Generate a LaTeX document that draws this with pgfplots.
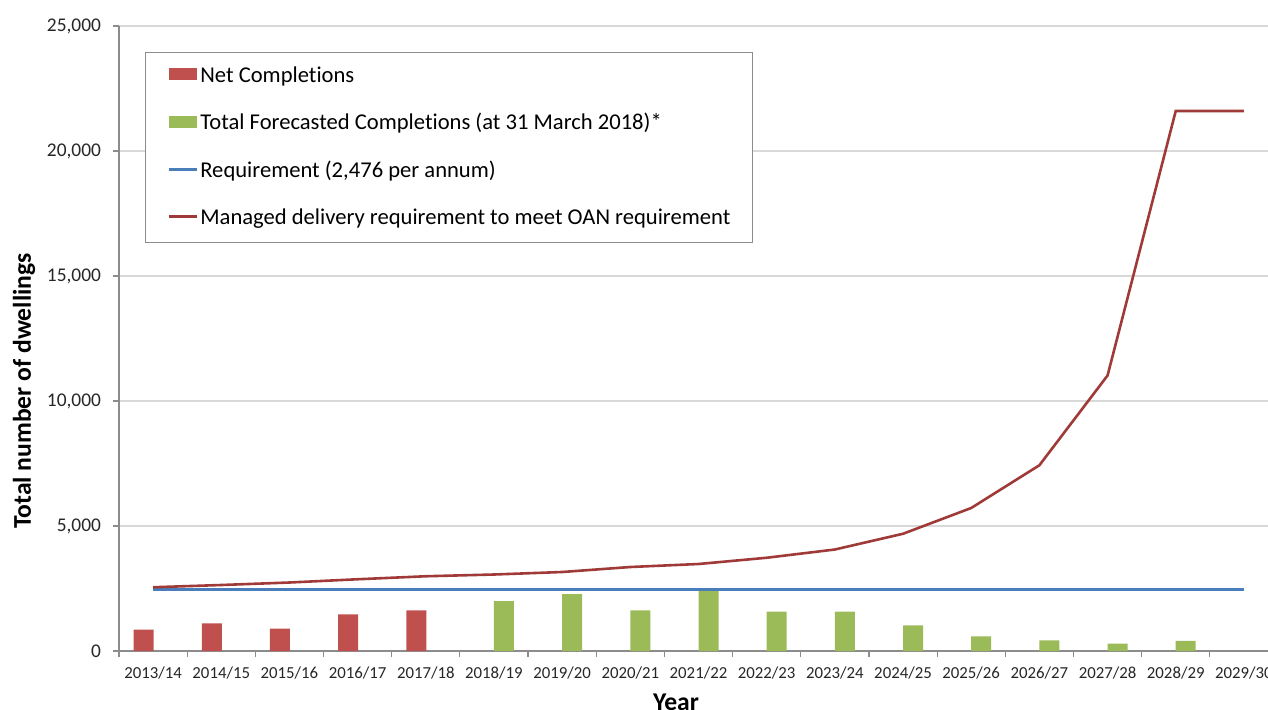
\documentclass[border=0pt]{standalone}
\usepackage{pgfplots}
\pgfplotsset{compat=1.18}
\usepackage{fontspec}
\setmainfont{Carlito}[Ligatures={NoCommon,NoContextual}]
\definecolor{netred}{HTML}{C0504D}
\definecolor{fcgreen}{HTML}{9BBB59}
\definecolor{reqblue}{HTML}{4A7EBB}
\definecolor{mgdred}{HTML}{A03A38}
\definecolor{gridgray}{HTML}{D9D9D9}
\definecolor{axisgray}{HTML}{8C8C8C}
\definecolor{txt}{HTML}{262626}
\begin{document}
\begin{tikzpicture}
\begin{axis}[
  at={(0,0)}, anchor=south west,
  scale only axis, width=579.5pt, height=312.5pt,
  xmin=-0.5, xmax=16.5, ymin=0, ymax=25000,
  axis x line*=bottom, axis y line*=left,
  axis line style={axisgray, line width=0.6pt},
  tick align=outside, major tick length=3pt,
  tick style={axisgray, line width=0.6pt},
  ymajorgrids, grid style={gridgray, line width=0.6pt},
  ytick={0,5000,...,25000},
  yticklabel style={font=\fontsize{9.7}{11}\selectfont, text=txt, xshift=-2.5pt},
  xtick={-0.5,0.5,...,16.5},
  xticklabels={2013/14,2014/15,2015/16,2016/17,2017/18,2018/19,2019/20,2020/21,2021/22,2022/23,2023/24,2024/25,2025/26,2026/27,2027/28,2028/29,2029/30,{}},
  xticklabel style={font=\fontsize{8.4}{10}\selectfont, text=txt, xshift=17.04pt, yshift=-1.5pt},
  /pgf/number format/assume math mode=true,
  /pgf/number format/.cd, 1000 sep={,}, /pgfplots/.cd,
  scaled y ticks=false,
  ylabel={Total number of dwellings},
  ylabel style={at={(axis description cs:-0.082,0.416)}, anchor=center, font=\bfseries\fontsize{12.8}{14}\selectfont},
  xlabel={Year},
  xlabel style={at={(axis description cs:0.4806,-0.057)}, anchor=north, font=\bfseries\fontsize{12.8}{14}\selectfont},
  legend style={at={(axis description cs:0.0224,0.9584)}, anchor=north west,
    draw=axisgray, line width=0.6pt, fill=white, inner xsep=11pt, inner ysep=6.8pt,
    row sep=13.75pt, font=\fontsize{11.3}{13}\selectfont,
    nodes={inner sep=0pt, text height=8pt, text depth=2pt, anchor=west}},
  legend cell align=left,
]
\addplot[ybar, bar width=10pt, bar shift=-4.75pt, fill=netred, draw=none,
  legend image code/.code={\fill[netred] (0pt,-2.1pt) rectangle (14pt,4.1pt); \path (15pt,0);}]
  coordinates {(0,860) (1,1110) (2,900) (3,1470) (4,1630)};
\addlegendentry{Net Completions}
\addplot[ybar, bar width=10pt, bar shift=5pt, fill=fcgreen, draw=none,
  legend image code/.code={\fill[fcgreen] (0pt,-2.1pt) rectangle (14pt,4.1pt); \path (15pt,0);}]
  coordinates {(5,2000) (6,2280) (7,1630) (8,2470) (9,1580) (10,1580) (11,1030) (12,590) (13,430) (14,300) (15,410)};
\addlegendentry{Total Forecasted Completions (at 31 March 2018)*}
\addplot[reqblue, line width=1.4pt, mark=none,
  legend image code/.code={\draw[reqblue, line width=1.4pt] (0pt,1pt) -- (14pt,1pt); \path (15pt,0);}]
  coordinates {(0,2476) (1,2476) (2,2476) (3,2476) (4,2476) (5,2476) (6,2476) (7,2476) (8,2476) (9,2476) (10,2476) (11,2476) (12,2476) (13,2476) (14,2476) (15,2476) (16,2476)};
\addlegendentry{Requirement (2,476 per annum)}
\addplot[mgdred, line width=1.3pt, mark=none,
  legend image code/.code={\draw[mgdred, line width=1.3pt] (0pt,1pt) -- (14pt,1pt); \path (15pt,0);}]
  coordinates {(0,2550) (1,2640) (2,2740) (3,2870) (4,2990) (5,3060) (6,3160) (7,3360) (8,3480) (9,3730) (10,4060) (11,4690) (12,5720) (13,7430) (14,11020) (15,21600) (16,21600)};
\addlegendentry{Managed delivery requirement to meet OAN requirement}
\end{axis}
\pgfresetboundingbox
\path[use as bounding box] (-59.5pt,-29pt) rectangle (574.5pt,325.5pt);
\end{tikzpicture}
\end{document}
